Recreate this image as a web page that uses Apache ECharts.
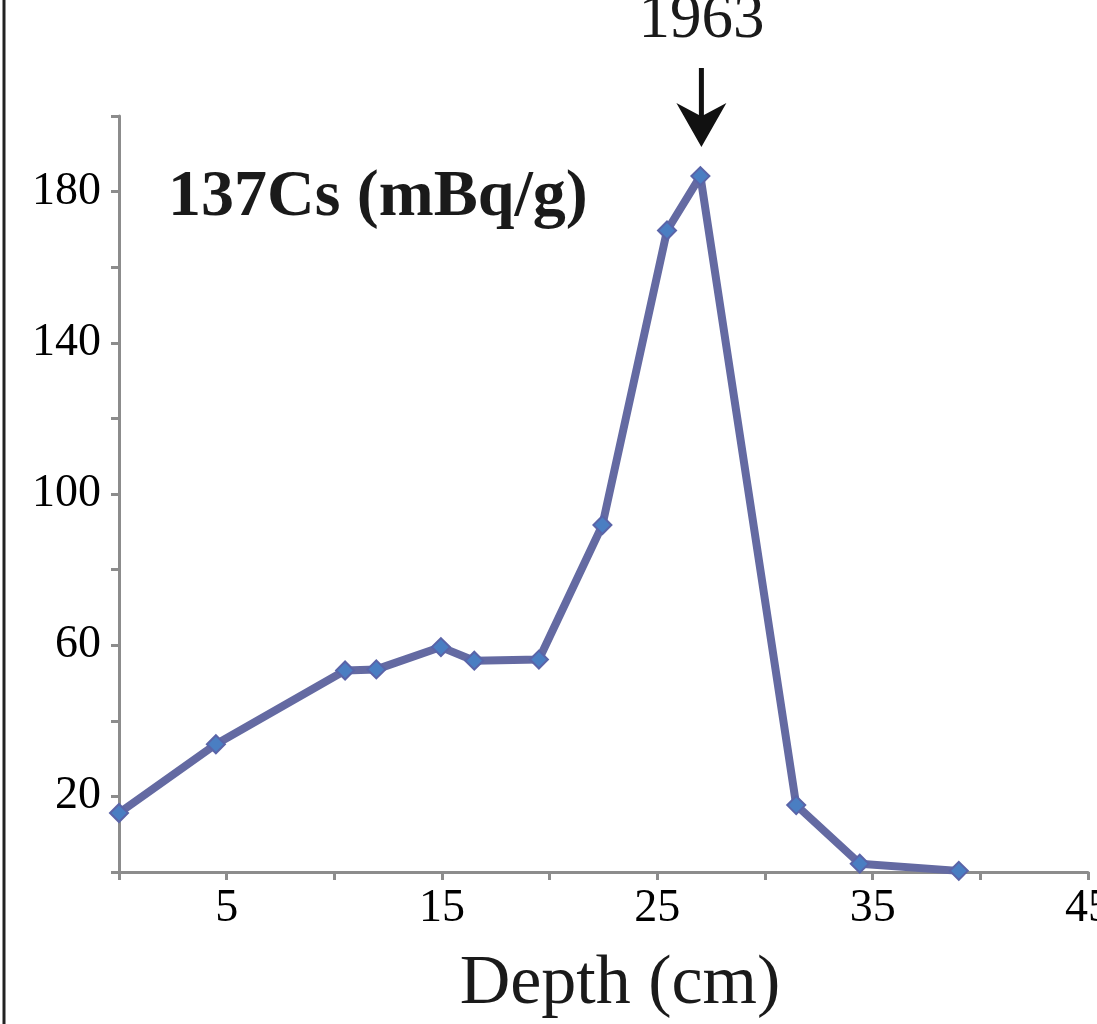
<!DOCTYPE html>
<html>
<head>
<meta charset="utf-8">
<script src="https://cdn.jsdelivr.net/npm/echarts@6/dist/echarts.min.js"></script>
<style>
html,body{margin:0;padding:0;background:#fff;}
#main{width:1097px;height:1024px;}
</style>
</head>
<body>
<div id="main"></div>
<script>
// Data
const depth = [0, 4.5, 10.5, 11.95, 14.95, 16.5, 19.5, 22.45, 25.45, 27.0, 31.45, 34.4, 39.0];
const cs137 = [15.6, 33.8, 53.3, 53.6, 59.5, 55.9, 56.2, 91.8, 169.7, 184.1, 17.7, 2.2, 0.3];
const titleText = '137Cs (mBq/g)';
const xAxisTitle = 'Depth (cm)';
const peakYearLabel = '1963';

const FONT = '"Liberation Serif", "Times New Roman", serif';
const chart = echarts.init(document.getElementById('main'));

const seriesData = depth.map((d, i) => [d, cs137[i]]);

chart.setOption({
  animation: false,
  backgroundColor: '#fff',
  grid: { left: 119, right: 9, top: 116, bottom: 152, containLabel: false, outerBoundsMode: 'none' },
  xAxis: {
    type: 'value', min: 0, max: 45, interval: 5,
    axisLine: { show: true, lineStyle: { color: '#8c8c8c', width: 3 } },
    axisTick: { show: true, inside: false, length: 8, lineStyle: { color: '#8c8c8c', width: 3 } },
    splitLine: { show: false },
    axisLabel: {
      color: '#000', fontFamily: FONT, fontSize: 46, margin: 14,
      formatter: v => (v % 10 === 5 ? String(v) : '')
    }
  },
  yAxis: {
    type: 'value', min: 0, max: 200, interval: 20,
    axisLine: { show: true, lineStyle: { color: '#8c8c8c', width: 3 } },
    axisTick: { show: true, inside: false, length: 8, lineStyle: { color: '#8c8c8c', width: 3 } },
    splitLine: { show: false },
    axisLabel: {
      color: '#000', fontFamily: FONT, fontSize: 46, margin: 18,
      formatter: v => (v % 40 === 20 ? String(v) : '')
    }
  },
  series: [{
    type: 'line',
    data: seriesData,
    symbol: 'diamond',
    symbolSize: 18,
    lineStyle: { color: '#646aa2', width: 8 },
    itemStyle: { color: '#4a7ec2', borderColor: '#5a64a8', borderWidth: 2 },
    z: 3
  }]
});

// annotations positioned from the data peak
let pk = 0;
cs137.forEach((v, i) => { if (v > cs137[pk]) pk = i; });
const p = chart.convertToPixel({ gridIndex: 0 }, [depth[pk], cs137[pk]]);
const ax = p[0] + 1, tipY = p[1] - 29;

chart.setOption({
  graphic: [
    { type: 'line', shape: { x1: 4, y1: 0, x2: 4, y2: 1024 }, style: { stroke: '#222', lineWidth: 3 } },
    { type: 'text', style: { x: 168, y: 198, text: titleText, font: 'bold 66px ' + FONT, fill: '#1a1a1a', textAlign: 'left', textVerticalAlign: 'middle' } },
    { type: 'text', style: { x: 620, y: 985, text: xAxisTitle, font: '70px ' + FONT, fill: '#1a1a1a', textAlign: 'center', textVerticalAlign: 'middle' } },
    { type: 'text', style: { x: ax, y: 20, text: peakYearLabel, font: '63px ' + FONT, fill: '#1a1a1a', textAlign: 'center', textVerticalAlign: 'middle' } },
    { type: 'polygon', shape: { points: [
        [ax - 2.5, tipY - 79], [ax + 2.5, tipY - 79], [ax + 2.5, tipY - 32],
        [ax + 25, tipY - 44], [ax, tipY], [ax - 25, tipY - 44], [ax - 2.5, tipY - 32]
      ] }, style: { fill: '#111' } }
  ]
});
</script>
</body>
</html>
